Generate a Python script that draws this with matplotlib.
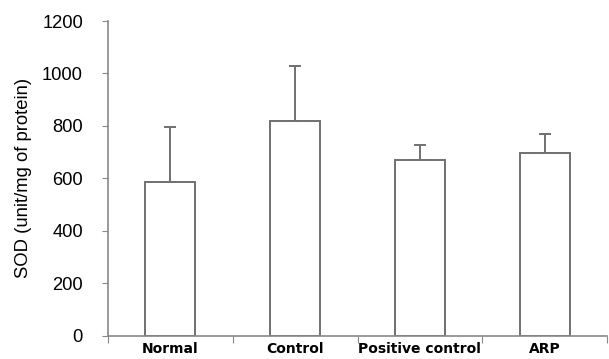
import matplotlib
matplotlib.use('Agg')
import matplotlib.pyplot as plt
import numpy as np

# dados
grupos = ['Normal', 'Control', 'Positive control', 'ARP']
medias = [585, 820, 669, 696]
desvios = [212, 210, 59, 73]
y_ticks = [0, 200, 400, 600, 800, 1000, 1200]

plt.rcParams['font.family'] = ['Liberation Sans', 'DejaVu Sans']

fig = plt.figure(figsize=(6.09, 3.59), dpi=100)
ax = fig.add_axes([0.1773, 0.065, 0.8195, 0.8765])

x = np.arange(len(grupos)) + 0.5
cinza = '#707070'
ax.bar(x, medias, width=0.4, color='white', edgecolor=cinza, linewidth=1.4, zorder=2)
ax.errorbar(x, medias, yerr=[np.zeros(len(desvios)), desvios], fmt='none',
            ecolor=cinza, elinewidth=1.4, capsize=4, capthick=1.4, zorder=1)

ax.set_xlim(0, len(grupos))
ax.set_ylim(0, 1200)
ax.set_yticks(y_ticks)
ax.set_yticklabels([str(v) for v in y_ticks], fontsize=13.2)
ax.set_xticks(np.arange(len(grupos) + 1))
ax.set_xticklabels([])
ax.set_xticks(x, minor=True)
ax.set_xticklabels(grupos, minor=True, fontsize=10, fontweight='bold', family='DejaVu Sans')
ax.tick_params(axis='x', which='minor', length=0, pad=4.5)
ax.tick_params(axis='x', which='major', length=5, color='#888888', direction='out')
ax.tick_params(axis='y', length=4.5, color='#888888', direction='out', pad=13.5)

ax.spines['top'].set_visible(False)
ax.spines['right'].set_visible(False)
for s in ['left', 'bottom']:
    ax.spines[s].set_color('#888888')
    ax.spines[s].set_linewidth(1.2)

ax.set_ylabel('SOD (unit/mg of protein)', fontsize=13.3, labelpad=7)

fig.savefig('out.png', dpi=100)
